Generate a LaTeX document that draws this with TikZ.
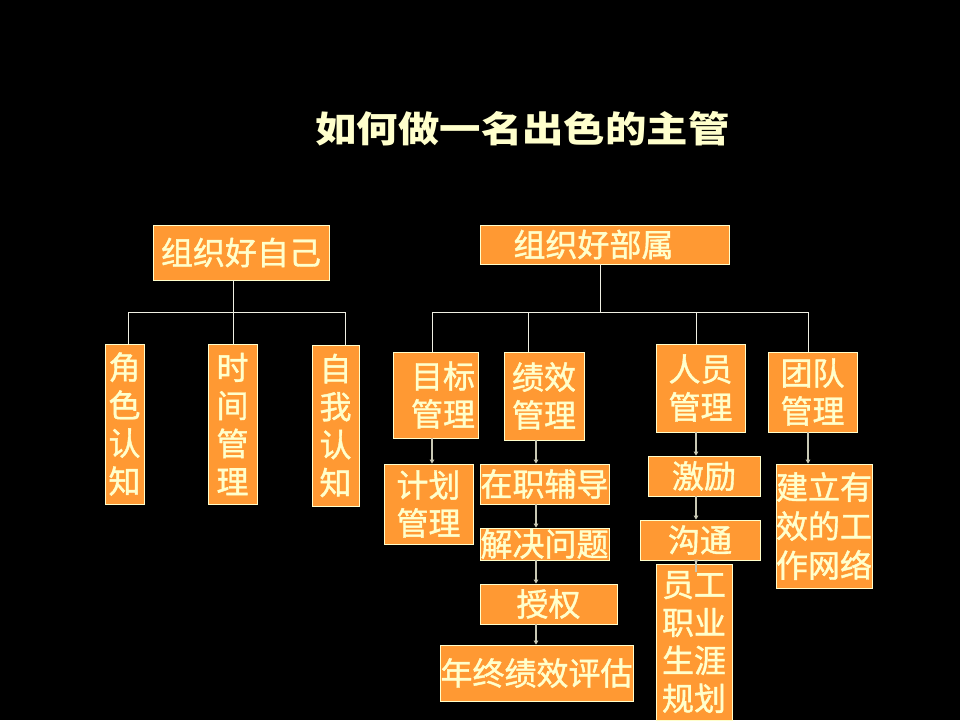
\documentclass[tikz,border=0pt]{standalone}
\usepackage{fontspec}
\newfontfamily\cjk{Noto Sans CJK SC}[FakeBold=1.2]
\newfontfamily\cjktitle{Noto Sans CJK SC}
\usetikzlibrary{arrows.meta,calc}
\definecolor{boxfill}{HTML}{FF9933}
\definecolor{txt}{HTML}{FFFFCC}
\definecolor{linec}{HTML}{F0F0E4}
\definecolor{arrc}{HTML}{C8C8B4}
\begin{document}
\begin{tikzpicture}[x=1pt,y=-1pt,
  box/.style={rectangle, draw=txt, line width=0.8pt, fill=boxfill, text=txt,
    font=\cjk\fontsize{32}{38}\selectfont, inner sep=0pt, align=center},
  tree/.style={draw=linec, line width=1pt},
  arr/.style={draw=arrc, line width=1.6pt, -{Triangle[length=4pt,width=4.5pt]}}]
\fill[black] (0,0) rectangle (960,720);
\useasboundingbox (0,0) rectangle (960,720);

% title
\node[text=txt, font=\cjktitle\bfseries\fontsize{36}{40}\selectfont] (title) at (522.5,129)
  {\scalebox{1.15}[1]{如何做一名出色的主管}};

% left tree
\node[box, minimum width=176pt, minimum height=55pt] (s0) at (241,252.5) {组织好自己};
\node[box, minimum width=39pt, minimum height=160pt] (s1) at (124.5,424) {角\\色\\认\\知};
\node[box, minimum width=49pt, minimum height=160pt] (s2) at (232.5,424) {时\\间\\管\\理};
\node[box, minimum width=47pt, minimum height=161pt] (s3) at (335.5,425.5) {自\\我\\认\\知};

% right tree
\node[box, minimum width=249pt, minimum height=39pt] (t0) at (604.5,244.5) {组织好部属\hspace*{22pt}};
\node[box, minimum width=85pt, minimum height=86pt] (t1) at (435.5,395) {\hspace*{15pt}目标\\\hspace*{15pt}管理};
\node[box, minimum width=80pt, minimum height=88pt] (t2) at (544,396) {绩效\\管理};
\node[box, minimum width=89pt, minimum height=88pt] (t3) at (700.5,388) {人员\\管理};
\node[box, minimum width=89pt, minimum height=80pt] (t4) at (812.5,392) {团队\\管理};

\node[box, minimum width=89pt, minimum height=80pt] (k1) at (428.5,504) {计划\\管理};
\node[box, minimum width=129pt, minimum height=40pt] (k2) at (544.5,484) {在职辅导};
\node[box, minimum width=129pt, minimum height=32pt] (k3) at (544.5,544) {解决问题};
\node[box, minimum width=137pt, minimum height=40pt] (k4) at (548.5,604) {授权};
\node[box, minimum width=193pt, minimum height=56pt] (k5) at (536.5,673) {年终绩效评估};

\node[box, minimum width=112pt, minimum height=40pt] (m1) at (704,476) {激励};
\node[box, minimum width=120pt, minimum height=40pt] (m2) at (700,540) {沟通};
\node[box, minimum width=76pt, minimum height=156pt] (m3) at (694,642) {员工\\职业\\生涯\\规划};

\node[box, minimum width=96pt, minimum height=124pt,
  font=\cjk\fontsize{32}{39}\selectfont] (n1) at (824,526) {建立有\\效的工\\作网络};

% junction coordinates
\coordinate (jl1) at (128,312);
\coordinate (jl2) at (233,312);
\coordinate (jl3) at (345,312);
\coordinate (jr0) at (600,312);
\coordinate (jr1) at (432,312);
\coordinate (jr2) at (528,312);
\coordinate (jr3) at (696,312);
\coordinate (jr4) at (808,312);
\coordinate (ax2) at (536,312);

% tree connectors
\draw[tree] (s0.south -| jl2) -- (jl2);
\draw[tree] (s1.north -| jl1) -- (jl1) -- (jl3) -- (s3.north -| jl3);
\draw[tree] (jl2) -- (s2.north -| jl2);

\draw[tree] (t0.south -| jr0) -- (jr0);
\draw[tree] (t1.north -| jr1) -- (jr1) -- (jr4) -- (t4.north -| jr4);
\draw[tree] (jr2) -- (t2.north -| jr2);
\draw[tree] (jr3) -- (t3.north -| jr3);

% arrows
\draw[arr] (t1.south -| jr1) -- (k1.north -| jr1);
\draw[arr] (t2.south -| ax2) -- (k2.north -| ax2);
\draw[arr] (k2.south -| ax2) -- (k3.north -| ax2);
\draw[arr] (k3.south -| ax2) -- (k4.north -| ax2);
\draw[arr] (k4.south -| ax2) -- (k5.north -| ax2);
\draw[arr] (t3.south -| jr3) -- (m1.north -| jr3);
\draw[arr] (m1.south -| jr3) -- (m2.north -| jr3);
\draw[arr, shorten <=-12pt] (m2.south -| jr3) -- (m3.north -| jr3);
\draw[arr] (t4.south -| jr4) -- (n1.north -| jr4);
\end{tikzpicture}
\end{document}
